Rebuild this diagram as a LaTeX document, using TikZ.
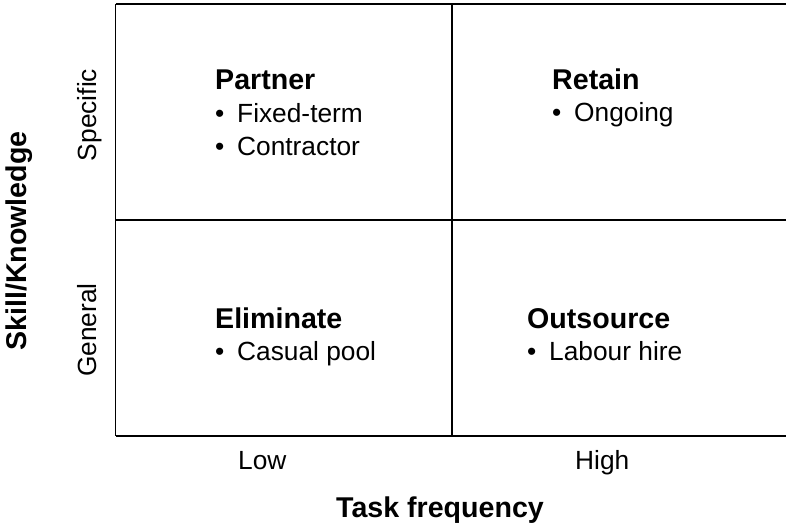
\documentclass[tikz,border=0pt]{standalone}
\usepackage{fontspec}
\setmainfont{Liberation Sans}
\begin{document}
\begin{tikzpicture}[x=1pt,y=-1pt,
  gridline/.style={line width=1.9pt,draw=black},
  quadtitle/.style={anchor=base west,inner sep=0pt,font=\fontsize{28.6}{32}\selectfont\bfseries},
  quaditem/.style={anchor=base west,inner sep=0pt,font=\fontsize{26.3}{30}\selectfont},
  axislabel/.style={inner sep=0pt,font=\fontsize{26.3}{30}\selectfont},
  axistitle/.style={inner sep=0pt,font=\fontsize{28.6}{32}\selectfont\bfseries}]
\useasboundingbox (0,0) rectangle (786,528);
\newcommand{\bulletitem}[1]{\makebox[22pt][l]{\textbullet}#1}

% grid corners and midpoints
\coordinate (tl) at (115.5,4);
\coordinate (tr) at (786,4);
\coordinate (bl) at (115.5,436);
\coordinate (br) at (786,436);
\coordinate (tm) at (452,4);
\coordinate (bm) at (452,436);
\coordinate (ml) at (115.5,220);
\coordinate (mr) at (786,220);

\draw[gridline] (tl) -- (tr);
\draw[gridline] (tl) -- (bl);
\draw[gridline] (bl) -- (br);
\draw[gridline] (tm) -- (bm);
\draw[gridline] (ml) -- (mr);

% quadrant contents
\node[quadtitle] (partner) at (215,89) {Partner};
\node[quaditem] (fixed) at (215,122) {\bulletitem{Fixed-term}};
\node[quaditem] (contr) at (215,155) {\bulletitem{Contractor}};

\node[quadtitle] (retain) at (552,89) {Retain};
\node[quaditem] (ongoing) at (552,121) {\bulletitem{Ongoing}};

\node[quadtitle] (elim) at (215,328) {Eliminate};
\node[quaditem] (casual) at (215,360) {\bulletitem{Casual pool}};

\node[quadtitle] (outs) at (527,328) {Outsource};
\node[quaditem] (labour) at (527,360) {\bulletitem{Labour hire}};

% axes
\node[axislabel,anchor=base west] (low) at (238,469) {Low};
\node[axislabel,anchor=base west] (high) at (575,469) {High};
\node[axistitle,anchor=base] (xtitle) at (440,517) {Task frequency};

\node[axislabel,rotate=90,anchor=base] (spec) at (96,115) {Specific};
\node[axislabel,rotate=90,anchor=base] (gen) at (96,330) {General};
\node[axistitle,rotate=90,anchor=base] (ytitle) at (27,241) {Skill/Knowledge};
\end{tikzpicture}
\end{document}
